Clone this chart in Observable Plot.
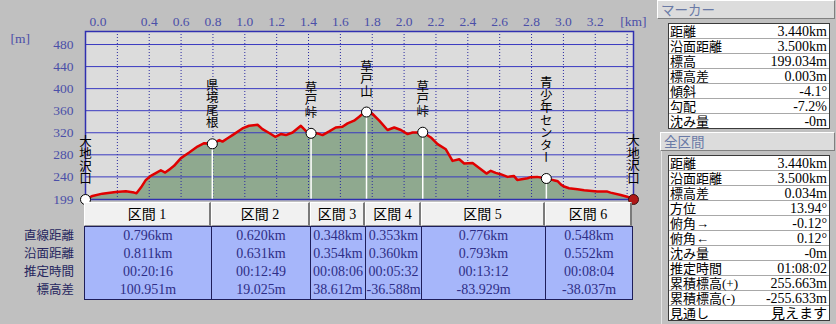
<!DOCTYPE html>
<html><head><meta charset="utf-8">
<script src="https://cdn.jsdelivr.net/npm/d3@7"></script>
<script src="https://cdn.jsdelivr.net/npm/@observablehq/plot@0.6"></script>
<style>
body{margin:0;background:#c0c0c0;}
#wrap{position:relative;width:836px;height:324px;background:#c0c0c0;overflow:hidden;font-family:"Liberation Serif","Noto Sans CJK JP",serif;font-size:13px;}
#wrap svg{position:absolute;left:0;top:0;}
.cell{position:absolute;box-sizing:border-box;white-space:nowrap;}
text.tate{writing-mode:vertical-rl;}
</style></head><body><div id="wrap"></div>
<script>
// ---- profile data (distance km, elevation m) ----
const profileKm = [0.000,0.044,0.106,0.190,0.253,0.305,0.320,0.348,0.379,0.410,0.441,0.473,0.500,0.529,0.556,0.599,0.651,0.703,0.745,0.796,
  0.840,0.860,0.892,0.923,0.985,1.027,1.080,1.111,1.153,1.191,1.226,1.258,1.300,1.352,1.383,1.416,
  1.456,1.488,1.530,1.571,1.613,1.645,1.686,1.718,1.750,1.764,
  1.802,1.844,1.896,1.938,1.980,2.022,2.053,2.084,2.117,
  2.168,2.210,2.262,2.304,2.346,2.377,2.430,2.482,2.517,2.544,2.575,2.605,2.650,2.689,2.710,2.775,2.795,2.835,2.893,
  2.925,2.945,2.965,2.985,3.000,3.035,3.088,3.130,3.213,3.276,3.296,3.360,3.400,3.430,3.440];
const profileElev = [199.0,205.5,209.6,212.7,214.0,211.5,210.4,220.6,234.5,241.8,246.7,252.0,247.8,254.0,260.0,274.0,284.2,295.0,301.0,299.95,
  306.7,304.0,310.0,315.8,327.8,332.7,334.5,326.7,319.5,312.7,317.6,315.8,320.5,332.7,323.6,318.98,
  318.8,315.8,322.4,329.6,331.0,337.0,342.0,349.0,356.9,357.59,
  354.0,342.0,325.0,329.6,325.0,317.6,320.5,320.5,320.98,
  311.5,299.5,290.0,269.0,272.0,264.3,265.0,254.0,246.0,251.0,247.3,244.9,240.0,241.8,234.5,237.6,239.5,240.0,237.05,
  235.0,233.5,232.0,226.0,223.0,219.4,217.6,215.8,213.3,213.3,211.5,207.0,204.0,201.0,199.03];

// ---- waypoints ----
const markerNames = ["大地沢口","県境尾根","草戸峠","草戸山","草戸峠","青少年センター","大地沢口"];
const markerKm = [0,0.796,1.416,1.764,2.117,2.893,3.440];
const markerElev = [199.0,299.95,318.98,357.59,320.98,237.05,199.03];

// ---- axes ----
const yTicks = [199,240,280,320,360,400,440,480];
const xGridKm = [0.2,0.4,0.6,0.8,1.0,1.2,1.4,1.6,1.8,2.0,2.2,2.4,2.6,2.8,3.0,3.2,3.4];
const xTickLabels = ["0.0","0.4","0.6","0.8","1.0","1.2","1.4","1.6","1.8","2.0","2.2","2.4","2.6","2.8","3.0","3.2"];
const yMin = 199, yMax = 503.6, xMax = 3.44;

// ---- section table ----
const sectionNames = ["区間 1","区間 2","区間 3","区間 4","区間 5","区間 6"];
const rowLabels = ["直線距離","沿面距離","推定時間","標高差"];
const straightDist = ["0.796km","0.620km","0.348km","0.353km","0.776km","0.548km"];
const surfaceDist = ["0.811km","0.631km","0.354km","0.360km","0.793km","0.552km"];
const estTime = ["00:20:16","00:12:49","00:08:06","00:05:32","00:13:12","00:08:04"];
const elevDiff = ["100.951m","19.025m","38.612m","-36.588m","-83.929m","-38.037m"];

// ---- right panels ----
const markerPanelTitle = "マーカー";
const markerLabels = ["距離","沿面距離","標高","標高差","傾斜","勾配","沈み量"];
const markerValues = ["3.440km","3.500km","199.034m","0.003m","-4.1°","-7.2%","-0m"];
const totalPanelTitle = "全区間";
const totalLabels = ["距離","沿面距離","標高差","方位","俯角→","俯角←","沈み量","推定時間","累積標高(+)","累積標高(-)","見通し"];
const totalValues = ["3.440km","3.500km","0.034m","13.94°","-0.12°","0.12°","-0m","01:08:02","255.663m","-255.633m","見えます"];

const profile = profileKm.map((k, i) => ({km: k, elev: profileElev[i]}));
const markers = markerNames.map((n, i) => ({name: n, km: markerKm[i], elev: markerElev[i]}));
const inner = markers.slice(1, -1);
const axisColor = "#4b4fa8";

const chart = Plot.plot({
  width: 660, height: 205,
  marginLeft: 85, marginRight: 27, marginTop: 31, marginBottom: 6,
  x: {domain: [0, xMax], axis: null},
  y: {domain: [yMin, yMax], axis: null},
  style: {background: "transparent", fontFamily: "'Liberation Serif','Noto Sans CJK JP',serif", fontSize: "13.5px", overflow: "visible"},
  marks: [
    Plot.frame({fill: "#dcdcdc"}),
    Plot.areaY(profile, {x: "km", y1: () => yMin, y2: "elev", fill: "#8fa98f"}),
    Plot.ruleY(yTicks.slice(1), {y: d => d, stroke: "#3a3ac0", strokeWidth: 1}),
    Plot.ruleX(xGridKm, {x: d => d, stroke: "#2a2aa0", strokeDasharray: "1,2"}),
    Plot.ruleX(inner, {x: "km", y1: () => yMin, y2: "elev", stroke: "white", strokeWidth: 1.5}),
    Plot.line(profile, {x: "km", y: "elev", stroke: "#e00000", strokeWidth: 2.5}),
    Plot.frame({stroke: "#3030b0", strokeWidth: 1.5}),
    Plot.dot(markers.slice(0, -1), {x: "km", y: "elev", r: 5, fill: "white", stroke: "black", strokeWidth: 1}),
    Plot.dot(markers.slice(-1), {x: "km", y: "elev", r: 5, fill: "#b01818", stroke: "#3a1010", strokeWidth: 1}),
    Plot.text(markers, {x: "km", y: "elev", text: "name", dy: -15, textAnchor: "end",
      fontSize: 12.5, fontFamily: "Noto Sans CJK JP", fill: "black"}),
    Plot.text(yTicks, {y: d => d, text: d => String(d), frameAnchor: "left", textAnchor: "end", dx: -12, fill: axisColor}),
    Plot.text(xTickLabels.slice(0, 1), {x: d => +d, text: d => d, frameAnchor: "top", textAnchor: "start", dx: 4, dy: -15, fill: axisColor}),
    Plot.text(xTickLabels.slice(1), {x: d => +d, text: d => d, frameAnchor: "top", dy: -15, fill: axisColor}),
    Plot.text(["[m]"], {text: d => d, frameAnchor: "top-left", dx: -75, dy: 2, fill: axisColor}),
    Plot.text(["[km]"], {text: d => d, frameAnchor: "top-right", dx: 13, dy: -15, fill: axisColor})
  ]
});

// vertical (tategaki) waypoint names
d3.select(chart).selectAll("text")
  .filter(function() { return markerNames.includes(this.textContent); })
  .attr("y", null).attr("dy", null)
  .attr("class", "tate")
  .attr("writing-mode", "tb")
  .attr("text-anchor", "end")
  .style("writing-mode", "vertical-rl");

const wrap = document.getElementById("wrap");
wrap.appendChild(chart);
const xs = chart.scale("x");

function cell(left, top, w, h, text, css) {
  const d = document.createElement("div");
  d.className = "cell";
  Object.assign(d.style, {left: left + "px", top: top + "px", width: w + "px", height: h + "px", lineHeight: h + "px"}, css || {});
  d.textContent = text;
  wrap.appendChild(d);
  return d;
}

// section table
const bounds = markerKm.map(k => Math.round(xs.apply(k)) - 1);
const hdrTop = 202, hdrH = 24, dataTop = 226, rowH = 18;
const cols = [straightDist, surfaceDist, estTime, elevDiff];
for (let i = 0; i < sectionNames.length; i++) {
  cell(bounds[i], hdrTop, bounds[i + 1] - bounds[i], hdrH, sectionNames[i], {
    background: "#f1f1f1", borderTop: "1px solid #ffffff", borderLeft: "1px solid #ffffff",
    borderRight: "2px solid #7a7a7a", borderBottom: "1px solid #9a9a9a", textAlign: "center", color: "#000", fontSize: "14px"
  });
}
cell(bounds[0], dataTop, bounds[6] - bounds[0] + 1, rowH * 4 + 2, "", {background: "#a6b6fa", border: "1px solid #1e1e5a"});
for (let i = 1; i < 6; i++) cell(bounds[i], dataTop, 1, rowH * 4 + 2, "", {background: "#1e1e5a"});
for (let i = 0; i < 6; i++) {
  for (let r = 0; r < 4; r++) {
    cell(bounds[i] + 1, dataTop + 1 + r * rowH, bounds[i + 1] - bounds[i] - 1, rowH, cols[r][i],
      {textAlign: "center", color: "#2e2e86", fontSize: "14px"});
  }
}
rowLabels.forEach((t, r) => cell(0, dataTop + 1 + r * rowH, 74, rowH, t, {textAlign: "right", color: "#26265e", fontSize: "12.5px"}));

// right panels
function header(left, top, w, h, text) {
  cell(left, top, w, h, text, {background: "#dcdcdc", borderTop: "1px solid #fff", borderLeft: "1px solid #fff",
    borderBottom: "1px solid #808080", borderRight: "1px solid #808080", color: "#6a7aa6", fontSize: "13.5px", paddingLeft: "3px",
    lineHeight: (h - 2) + "px", fontFamily: "'Noto Sans CJK JP',sans-serif"});
}
function panel(top, labels, values) {
  const rh = 15;
  cell(668, top, 162, labels.length * rh + 1, "", {background: "#fff", border: "1px solid #3a3a3a"});
  labels.forEach((t, r) => {
    cell(669, top + 1 + r * rh, 160, rh, "", {borderBottom: r < labels.length - 1 ? "1px solid #a8a8a8" : "none"});
    cell(670, top + r * rh + 1, 100, rh, t, {color: "#000", fontSize: "13px"});
    cell(715, top + r * rh + 1, 112, rh, values[r], {color: "#000", fontSize: "14px", textAlign: "right"});
  });
}
header(657, 0, 178, 19, markerPanelTitle);
panel(23, markerLabels, markerValues);
header(660, 132, 175, 19, totalPanelTitle);
cell(661, 151, 1, 173, "", {background: "#e4e4e4"});
panel(155, totalLabels, totalValues);
</script></body></html>
